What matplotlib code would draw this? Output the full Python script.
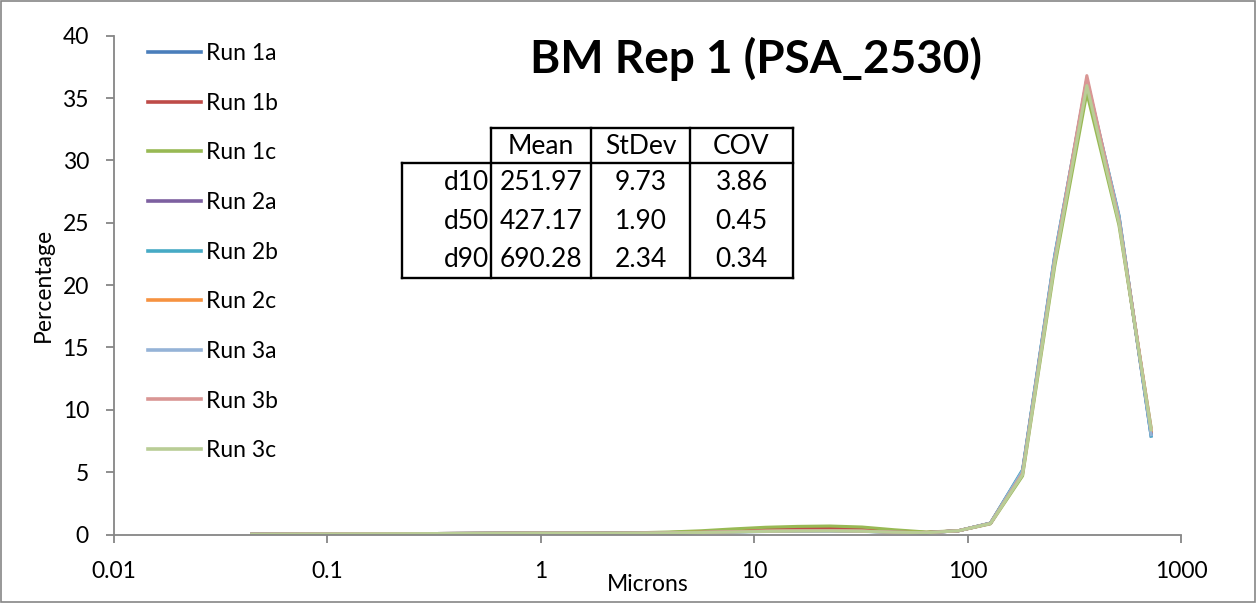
import matplotlib
matplotlib.use("Agg")
import matplotlib.pyplot as plt
from matplotlib.lines import Line2D
from matplotlib.patches import Rectangle

plt.rcParams['font.family'] = ['Lato', 'DejaVu Sans']

# ---------------- data ----------------
sizes = [0.0442, 0.0625, 0.0884, 0.125, 0.177, 0.25, 0.354, 0.5, 0.707, 1.0,
         1.41, 2.0, 2.83, 4.0, 5.66, 8.0, 11.3, 16.0, 22.6, 32.0, 45.3, 64.0,
         90.5, 128, 181, 256, 362, 512, 724]

run_labels = ["Run 1a", "Run 1b", "Run 1c", "Run 2a", "Run 2b", "Run 2c",
              "Run 3a", "Run 3b", "Run 3c"]

run_1a = [0.02, 0.03, 0.04, 0.05, 0.06, 0.07, 0.08, 0.09, 0.10, 0.11, 0.11, 0.10, 0.11,
          0.14, 0.18, 0.24, 0.30, 0.33, 0.34, 0.30, 0.20, 0.15, 0.30, 0.90, 5.1, 22.3, 36.3, 25.4, 7.9]
run_1b = [0.02, 0.03, 0.04, 0.05, 0.06, 0.07, 0.08, 0.09, 0.10, 0.11, 0.11, 0.10, 0.12,
          0.16, 0.22, 0.32, 0.42, 0.50, 0.52, 0.45, 0.30, 0.17, 0.30, 0.90, 5.0, 22.0, 36.5, 25.2, 8.2]
run_1c = [0.02, 0.03, 0.04, 0.05, 0.06, 0.07, 0.08, 0.09, 0.10, 0.11, 0.11, 0.11, 0.14,
          0.20, 0.30, 0.45, 0.58, 0.65, 0.68, 0.60, 0.38, 0.20, 0.30, 0.85, 4.7, 21.5, 35.4, 24.8, 8.6]
run_2a = [0.02, 0.03, 0.04, 0.05, 0.06, 0.07, 0.08, 0.09, 0.10, 0.11, 0.11, 0.10, 0.11,
          0.13, 0.17, 0.22, 0.27, 0.30, 0.31, 0.27, 0.18, 0.14, 0.30, 0.90, 5.1, 22.2, 36.3, 25.5, 8.1]
run_2b = [0.02, 0.03, 0.04, 0.05, 0.06, 0.07, 0.08, 0.09, 0.10, 0.11, 0.11, 0.10, 0.11,
          0.13, 0.16, 0.21, 0.26, 0.29, 0.30, 0.26, 0.18, 0.14, 0.30, 0.92, 5.2, 22.4, 36.4, 25.6, 7.9]
run_2c = [0.02, 0.03, 0.04, 0.05, 0.06, 0.07, 0.08, 0.09, 0.10, 0.11, 0.11, 0.10, 0.11,
          0.14, 0.18, 0.23, 0.28, 0.31, 0.32, 0.28, 0.19, 0.15, 0.30, 0.90, 5.0, 22.1, 36.3, 25.3, 8.3]
run_3a = [0.02, 0.03, 0.04, 0.05, 0.06, 0.07, 0.08, 0.09, 0.10, 0.11, 0.11, 0.10, 0.11,
          0.13, 0.16, 0.20, 0.24, 0.27, 0.28, 0.25, 0.17, 0.14, 0.30, 0.91, 5.1, 22.3, 36.5, 25.5, 8.0]
run_3b = [0.02, 0.03, 0.04, 0.05, 0.06, 0.07, 0.08, 0.09, 0.10, 0.11, 0.11, 0.10, 0.11,
          0.13, 0.17, 0.22, 0.27, 0.30, 0.31, 0.27, 0.18, 0.14, 0.30, 0.88, 4.9, 22.0, 36.8, 25.2, 8.5]
run_3c = [0.02, 0.03, 0.04, 0.05, 0.06, 0.07, 0.08, 0.09, 0.10, 0.11, 0.11, 0.10, 0.11,
          0.13, 0.16, 0.20, 0.25, 0.28, 0.29, 0.26, 0.18, 0.14, 0.30, 0.88, 4.8, 21.8, 36.0, 25.0, 8.4]

runs = [run_1a, run_1b, run_1c, run_2a, run_2b, run_2c, run_3a, run_3b, run_3c]
colors = ["#4A7EBB", "#BE4B48", "#98B954", "#7D60A0", "#46AAC5", "#F69240",
          "#95B3D7", "#D99694", "#B9CD96"]

x_ticks = [0.01, 0.1, 1, 10, 100, 1000]
x_tick_labels = ["0.01", "0.1", "1", "10", "100", "1000"]
y_ticks = [0, 5, 10, 15, 20, 25, 30, 35, 40]

table_cols = ["Mean", "StDev", "COV"]
table_rows = ["d10", "d50", "d90"]
table_vals = [["251.97", "9.73", "3.86"],
              ["427.17", "1.90", "0.45"],
              ["690.28", "2.34", "0.34"]]

title = "BM Rep 1 (PSA_2530)"

# ---------------- figure ----------------
W, H = 1256, 603
fig = plt.figure(figsize=(W / 100, H / 100), dpi=100)
fig.patch.set_facecolor("white")

def fx(x):
    return x / W

def fy(y):
    return 1 - y / H

ax_l, ax_r, ax_t, ax_b = 114, 1181, 35.7, 534.5
ax = fig.add_axes([fx(ax_l), fy(ax_b), (ax_r - ax_l) / W, (ax_b - ax_t) / H])

for lab, vals, c in zip(run_labels, runs, colors):
    ax.plot(sizes, vals, color=c, lw=2.2, label=lab, solid_joinstyle="round")

ax.set_xscale("log")
ax.set_xlim(0.01, 1000)
ax.set_ylim(0, 40)
ax.set_xticks(x_ticks)
ax.set_xticklabels(x_tick_labels)
ax.minorticks_off()
ax.set_yticks(y_ticks)

fs = 16.5
gray = "#868686"
for s in ["top", "right"]:
    ax.spines[s].set_visible(False)
for s in ["left", "bottom"]:
    ax.spines[s].set_color(gray)
    ax.spines[s].set_linewidth(1.3)
ax.tick_params(axis="both", colors=gray, labelcolor="black", labelsize=fs,
               length=6, width=1.3, direction="out")
ax.tick_params(axis="x", pad=13)
ax.tick_params(axis="y", pad=12)

ax.set_xlabel("Microns", fontsize=fs, labelpad=-6)
ax.set_ylabel("Percentage", fontsize=fs, labelpad=6)

leg = ax.legend(loc="upper left", bbox_to_anchor=(fx(148), fy(43)),
                bbox_transform=fig.transFigure, frameon=False,
                fontsize=fs, handlelength=2.3, handletextpad=0.25,
                labelspacing=1.25, borderaxespad=0, borderpad=0)
for h in leg.get_lines():
    h.set_linewidth(2.6)

fig.text(fx(756), fy(73), title, ha="center", va="baseline",
         fontsize=33, fontweight="bold")

# ---------------- table ----------------
lw_t = 1.7
col_x = [491, 591, 690, 793]
left_x = 401.7
head_top, head_bot, body_bot = 127.7, 162.7, 278
row_h = (body_bot - head_bot) / len(table_rows)

def hline(x0, x1, y):
    fig.add_artist(Line2D([fx(x0), fx(x1)], [fy(y), fy(y)], color="black", lw=lw_t,
                          solid_capstyle="projecting"))

def vline(x, y0, y1):
    fig.add_artist(Line2D([fx(x), fx(x)], [fy(y0), fy(y1)], color="black", lw=lw_t,
                          solid_capstyle="projecting"))

hline(col_x[0], col_x[-1], head_top)
hline(left_x, col_x[-1], head_bot)
hline(left_x, col_x[-1], body_bot)
vline(left_x, head_bot, body_bot)
for x in col_x:
    vline(x, head_top, body_bot)

tfs = 19
for j, name in enumerate(table_cols):
    fig.text(fx((col_x[j] + col_x[j + 1]) / 2), fy((head_top + head_bot) / 2 + 1), name,
             ha="center", va="center", fontsize=tfs)
for i, rname in enumerate(table_rows):
    yc = head_bot + row_h * (i + 0.5) + 1
    fig.text(fx(col_x[0] - 2), fy(yc), rname, ha="right", va="center", fontsize=tfs)
    for j, v in enumerate(table_vals[i]):
        fig.text(fx((col_x[j] + col_x[j + 1]) / 2), fy(yc), v,
                 ha="center", va="center", fontsize=tfs)

# chart border
fig.add_artist(Rectangle((fx(1), fy(H - 1)), (W - 2) / W, (H - 2) / H,
                         fill=False, edgecolor=gray, lw=1.2, transform=fig.transFigure))

fig.savefig("out.png", dpi=100, facecolor="white")
